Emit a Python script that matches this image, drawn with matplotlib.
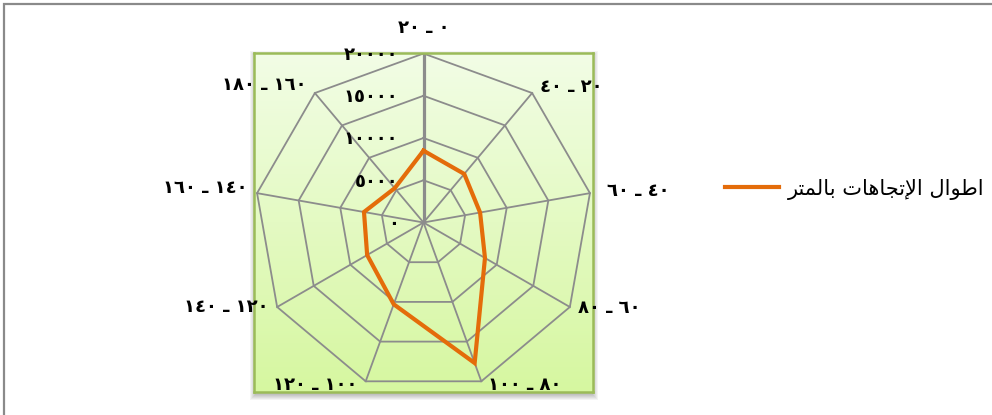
import matplotlib
matplotlib.use("Agg", force=True)

import numpy as np
import matplotlib.pyplot as plt
from matplotlib.colors import LinearSegmentedColormap
from matplotlib.patches import Rectangle

# direction classes (degrees) and total lengths in metres
bin_lo = [0, 20, 40, 60, 80, 100, 120, 140, 160]
bin_hi = [20, 40, 60, 80, 100, 120, 140, 160, 180]
lengths = [8500, 7500, 6800, 8400, 17700, 10300, 7700, 7150, 5300]
r_ticks = [0, 5000, 10000, 15000, 20000]
series_label = "اطوال الإتجاهات بالمتر"

# label nudges in pixels, one per spoke
label_offsets = [(0, 25), (8, 6), (17, 2), (8, -1), (7, -4),
                 (-8, -4), (-9, 0), (-10, 5), (-8, 8)]

AR_DIGITS = str.maketrans("0123456789", "٠١٢٣٤٥٦٧٨٩")

# isolated, final, initial, medial
AR_FORMS = {
    "ا": ("\ufe8d", "\ufe8e", None, None),
    "إ": ("\ufe87", "\ufe88", None, None),
    "و": ("\ufeed", "\ufeee", None, None),
    "ر": ("\ufead", "\ufeae", None, None),
    "ب": ("\ufe8f", "\ufe90", "\ufe91", "\ufe92"),
    "ت": ("\ufe95", "\ufe96", "\ufe97", "\ufe98"),
    "ج": ("\ufe9d", "\ufe9e", "\ufe9f", "\ufea0"),
    "ط": ("\ufec1", "\ufec2", "\ufec3", "\ufec4"),
    "ل": ("\ufedd", "\ufede", "\ufedf", "\ufee0"),
    "م": ("\ufee1", "\ufee2", "\ufee3", "\ufee4"),
    "ه": ("\ufee9", "\ufeea", "\ufeeb", "\ufeec"),
    "لا": ("\ufefb", "\ufefc", None, None),
    "لإ": ("\ufef9", "\ufefa", None, None),
}


def shape_arabic(text):
    # matplotlib does no Arabic joining or bidi, so pick the presentation
    # forms by hand and flip into visual order (enough for this label)
    units, i = [], 0
    while i < len(text):
        if text[i:i + 2] in AR_FORMS:
            units.append(text[i:i + 2])
            i += 2
        else:
            units.append(text[i])
            i += 1
    out = []
    for k, u in enumerate(units):
        forms = AR_FORMS.get(u)
        if forms is None:
            out.append(u)
            continue
        prev = units[k - 1] if k > 0 else None
        nxt = units[k + 1] if k + 1 < len(units) else None
        joins_prev = prev in AR_FORMS and AR_FORMS[prev][2] is not None
        joins_next = forms[2] is not None and nxt in AR_FORMS
        if joins_prev and joins_next:
            out.append(forms[3])
        elif joins_prev:
            out.append(forms[1])
        elif joins_next:
            out.append(forms[2])
        else:
            out.append(forms[0])
    return "".join(reversed(out))


def ar(n):
    return str(n).translate(AR_DIGITS)


plt.rcParams["font.family"] = ["DejaVu Sans"]

fig = plt.figure(figsize=(9.92, 4.15), dpi=100)
W, H = 992, 415

# outer chart frame (only top and left edges fall inside the image)
fig.patches.append(Rectangle((4 / W, -0.2), 1.2, (H - 4) / H + 0.2,
                             transform=fig.transFigure, fill=False,
                             edgecolor="#8a8a8a", lw=1.6, zorder=0))

ax_l, ax_b, ax_s = 254, H - 392, 339
# soft drop shadow under the plot area
for k in range(6):
    grow = k * 1.0
    fig.patches.append(Rectangle(((ax_l - grow + 1) / W, (ax_b - 3 - grow) / H),
                                 (ax_s + 2 * grow - 1) / W, (ax_s + 2 * grow) / H,
                                 transform=fig.transFigure, facecolor="#000000",
                                 edgecolor="none", alpha=0.045, zorder=0))

ax = fig.add_axes([ax_l / W, ax_b / H, ax_s / W, ax_s / H])
ax.set_zorder(2)
r_max = r_ticks[-1]
lim = r_max * 169.5 / 169

cmap = LinearSegmentedColormap.from_list("plotarea", ["#d6f7a0", "#f2fde6"])
grad = np.linspace(0, 1, 256).reshape(-1, 1)
ax.imshow(grad, extent=[-lim, lim, -lim, lim], origin="lower", cmap=cmap,
          aspect="auto", zorder=0, interpolation="bilinear")
ax.set_xlim(-lim, lim)
ax.set_ylim(-lim, lim)
ax.set_xticks([])
ax.set_yticks([])
for sp in ax.spines.values():
    sp.set_edgecolor("#9bbb59")
    sp.set_linewidth(1.8)

n = len(lengths)
theta = np.arange(n) * 2 * np.pi / n
sx, sy = np.sin(theta), np.cos(theta)
ring = np.append(np.arange(n), 0)

# polygon gridlines and spokes
for rv in r_ticks[1:]:
    ax.plot(rv * sx[ring], rv * sy[ring], color="#8c8c8c", lw=1.3, zorder=2)
for k in range(n):
    ax.plot([0, r_max * sx[k]], [0, r_max * sy[k]], color="#8c8c8c",
            lw=2.3 if k == 0 else 1.3, zorder=2)

vals = np.array(lengths, dtype=float)
line, = ax.plot(vals[ring] * sx[ring], vals[ring] * sy[ring], color="#e46c0a",
                lw=3.0, solid_joinstyle="miter", zorder=3,
                label=shape_arabic(series_label))

# value axis labels along the top spoke
for rv in r_ticks:
    ax.annotate(ar(rv), (0, rv), xytext=(-25, -1.5), textcoords="offset pixels",
                ha="right", va="center", fontsize=13, fontweight="bold",
                color="#000000", annotation_clip=False, zorder=4)

# category labels outside the rim
for k in range(n):
    dx, dy = label_offsets[k]
    ha = "center" if dx == 0 else ("left" if dx > 0 else "right")
    ax.annotate(f"{ar(bin_hi[k])} ـ {ar(bin_lo[k])}", (r_max * sx[k], r_max * sy[k]),
                xytext=(dx, dy), textcoords="offset pixels", ha=ha, va="center",
                fontsize=13, fontweight="bold", color="#000000",
                annotation_clip=False, zorder=4)

fig.legend(handles=[line], loc="center left", bbox_to_anchor=(725 / W, 226 / H),
           frameon=False, fontsize=15, handlelength=2.6, handletextpad=0.4,
           borderpad=0, borderaxespad=0)

fig.savefig("out.png", dpi=100)
